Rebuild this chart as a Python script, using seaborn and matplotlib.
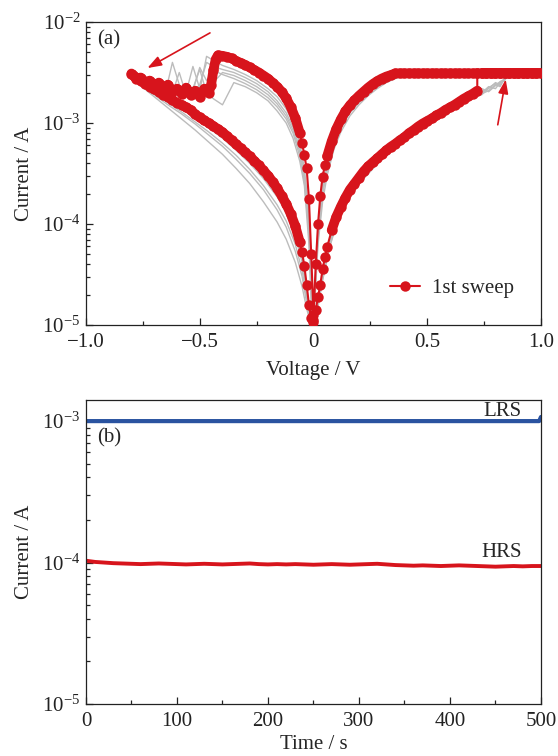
import matplotlib
matplotlib.use("Agg")
import matplotlib.pyplot as plt
import numpy as np
import seaborn as sns
from matplotlib.ticker import LogLocator, NullFormatter, MultipleLocator, FixedLocator, FixedFormatter

# ======================= DATA : panel (a) =======================
# 1st sweep (log10 of current in A), in sweep order
red_v_set = [0.00, 0.01, 0.02, 0.03, 0.04, 0.05, 0.06,
             0.08, 0.10, 0.12, 0.14, 0.16, 0.18, 0.20, 0.22, 0.24, 0.26,
             0.28, 0.30, 0.32, 0.34, 0.36, 0.38, 0.40, 0.42, 0.44, 0.46,
             0.48, 0.50, 0.52, 0.54, 0.56, 0.58, 0.60, 0.62, 0.64, 0.66,
             0.68, 0.70, 0.72]
red_log_set = [-4.95, -4.85, -4.72, -4.60, -4.45, -4.33, -4.23,
               -4.06, -3.93, -3.83, -3.74, -3.66, -3.60, -3.54, -3.48, -3.43, -3.39,
               -3.35, -3.31, -3.27, -3.235, -3.205, -3.17, -3.14, -3.10, -3.07, -3.035,
               -3.005, -2.98, -2.955, -2.925, -2.90, -2.87, -2.845, -2.82, -2.79, -2.76,
               -2.735, -2.71, -2.68]
# compliance (forward to 1.0 V and back to 0.36 V)
red_v_cc = [0.72, 0.74, 0.76, 0.78, 0.80, 0.82, 0.84, 0.86, 0.88, 0.90, 0.92, 0.94,
            0.96, 0.98, 1.00, 0.98, 0.96, 0.94, 0.92, 0.90, 0.88, 0.86, 0.84, 0.82,
            0.80, 0.78, 0.76, 0.74, 0.72, 0.70, 0.68, 0.66, 0.64, 0.62, 0.60, 0.58,
            0.56, 0.54, 0.52, 0.50, 0.48, 0.46, 0.44, 0.42, 0.40, 0.38, 0.36]
red_i_cc = [3.1e-3, 3.1e-3, 3.1e-3, 3.1e-3, 3.1e-3, 3.1e-3, 3.1e-3, 3.1e-3, 3.1e-3, 3.1e-3,
            3.1e-3, 3.1e-3, 3.1e-3, 3.1e-3, 3.1e-3, 3.1e-3, 3.1e-3, 3.1e-3, 3.1e-3, 3.1e-3,
            3.1e-3, 3.1e-3, 3.1e-3, 3.1e-3, 3.1e-3, 3.1e-3, 3.1e-3, 3.1e-3, 3.1e-3, 3.1e-3,
            3.1e-3, 3.1e-3, 3.1e-3, 3.1e-3, 3.1e-3, 3.1e-3, 3.1e-3, 3.1e-3, 3.1e-3, 3.1e-3,
            3.1e-3, 3.1e-3, 3.1e-3, 3.1e-3, 3.1e-3, 3.1e-3, 3.1e-3]
red_v_lrs = [0.34, 0.32, 0.30, 0.28, 0.26, 0.24, 0.22, 0.20, 0.18, 0.16, 0.14, 0.12,
             0.10, 0.08, 0.06, 0.05, 0.04, 0.03, 0.02, 0.01, 0.00]
red_log_lrs = [-2.525, -2.54, -2.56, -2.585, -2.615, -2.65, -2.69, -2.73, -2.775, -2.825,
               -2.885, -2.965, -3.06, -3.18, -3.33, -3.42, -3.53, -3.72, -4.00, -4.40, -4.90]
red_v_reset = [-0.01, -0.02, -0.03, -0.04, -0.05, -0.06,
               -0.08, -0.10, -0.12, -0.14, -0.16, -0.18, -0.20, -0.22, -0.24, -0.26,
               -0.28, -0.30, -0.32, -0.34, -0.36, -0.38, -0.40, -0.42,
               -0.43, -0.44, -0.45,
               -0.46, -0.48, -0.50, -0.52, -0.54, -0.56, -0.58, -0.60, -0.62, -0.64,
               -0.66, -0.68, -0.70, -0.72, -0.74, -0.76, -0.78, -0.80]
red_log_reset = [-4.30, -3.75, -3.45, -3.32, -3.20, -3.10,
                 -2.95, -2.84, -2.755, -2.69, -2.64, -2.60, -2.56, -2.53, -2.50, -2.475,
                 -2.45, -2.425, -2.405, -2.385, -2.36, -2.345, -2.335, -2.33,
                 -2.37, -2.48, -2.62,
                 -2.70, -2.66, -2.74, -2.68, -2.72, -2.65, -2.71, -2.66, -2.69, -2.62,
                 -2.66, -2.60, -2.63, -2.58, -2.60, -2.55, -2.56, -2.51]
red_v_back = [-0.78, -0.76, -0.74, -0.72, -0.70, -0.68, -0.66, -0.64, -0.62, -0.60,
              -0.58, -0.56, -0.54, -0.52, -0.50, -0.48, -0.46, -0.44, -0.42, -0.40,
              -0.38, -0.36, -0.34, -0.32, -0.30, -0.28, -0.26, -0.24, -0.22, -0.20,
              -0.18, -0.16, -0.14, -0.12, -0.10, -0.08, -0.06,
              -0.05, -0.04, -0.03, -0.02, -0.01, 0.00]
red_log_back = [-2.55, -2.58, -2.61, -2.64, -2.665, -2.69, -2.72, -2.745, -2.77, -2.80,
                -2.82, -2.845, -2.87, -2.915, -2.945, -2.975, -3.00, -3.03, -3.06, -3.09,
                -3.13, -3.17, -3.21, -3.25, -3.29, -3.33, -3.375, -3.42, -3.47, -3.52,
                -3.58, -3.645, -3.72, -3.80, -3.90, -4.02, -4.18,
                -4.28, -4.42, -4.60, -4.80, -4.93, -4.97]

# later cycles (grey), log10 of current, shared voltage grids per branch
gray_v_lo = [0.00, 0.01, 0.02, 0.04, 0.07, 0.10, 0.15, 0.20, 0.30, 0.40, 0.50, 0.60,
             0.70, 0.74, 0.77, 0.80, 0.82, 0.84]
gray_log_lo = [
    [-4.98, -4.90, -4.78, -4.52, -4.20, -3.98, -3.74, -3.57, -3.34, -3.16, -3.01, -2.87, -2.74, -2.70, -2.64, -2.66, -2.60, -2.58],
    [-5.00, -4.93, -4.82, -4.56, -4.24, -4.01, -3.77, -3.60, -3.36, -3.18, -3.03, -2.89, -2.76, -2.71, -2.68, -2.62, -2.64, -2.56],
    [-4.96, -4.88, -4.75, -4.49, -4.17, -3.96, -3.72, -3.56, -3.33, -3.15, -3.00, -2.86, -2.73, -2.66, -2.69, -2.63, -2.59, -2.57],
    [-4.99, -4.91, -4.80, -4.55, -4.23, -4.00, -3.76, -3.59, -3.35, -3.17, -3.02, -2.88, -2.75, -2.72, -2.65, -2.61, -2.63, -2.55],
    [-4.97, -4.89, -4.77, -4.50, -4.19, -3.97, -3.73, -3.58, -3.35, -3.17, -3.02, -2.88, -2.74, -2.69, -2.66, -2.60, -2.62, -2.57],
]
gray_v_cc = [0.86, 1.00, 0.42]
gray_log_cc = [-2.51, -2.51, -2.51]
gray_v_up = [0.40, 0.36, 0.32, 0.28, 0.24, 0.20, 0.16, 0.12, 0.09, 0.06, 0.04, 0.02, 0.01, 0.00]
gray_log_up = [
    [-2.51, -2.53, -2.57, -2.62, -2.69, -2.77, -2.87, -3.02, -3.18, -3.42, -3.65, -4.10, -4.50, -4.95],
    [-2.53, -2.56, -2.60, -2.66, -2.73, -2.82, -2.93, -3.09, -3.26, -3.52, -3.78, -4.20, -4.60, -4.97],
    [-2.51, -2.52, -2.55, -2.60, -2.67, -2.75, -2.85, -2.99, -3.15, -3.38, -3.60, -4.05, -4.45, -4.92],
    [-2.52, -2.55, -2.59, -2.64, -2.71, -2.80, -2.90, -3.05, -3.22, -3.47, -3.70, -4.15, -4.55, -4.96],
    [-2.51, -2.54, -2.58, -2.63, -2.70, -2.78, -2.88, -3.04, -3.20, -3.45, -3.68, -4.12, -4.52, -4.94],
]
gray_v_neg = [-0.01, -0.02, -0.04, -0.06, -0.09, -0.12, -0.16, -0.20, -0.25, -0.30, -0.35,
              -0.40, -0.44, -0.47, -0.50, -0.53, -0.56, -0.59, -0.62, -0.65, -0.68, -0.71,
              -0.74, -0.77, -0.80]
gray_log_neg = [
    [-4.6, -4.0, -3.50, -3.25, -3.04, -2.90, -2.78, -2.69, -2.61, -2.55, -2.50, -2.47, -2.44, -2.40, -2.62, -2.70, -2.66, -2.72, -2.64, -2.68, -2.62, -2.64, -2.58, -2.59, -2.55],
    [-4.7, -4.1, -3.58, -3.33, -3.10, -2.96, -2.84, -2.75, -2.67, -2.61, -2.56, -2.52, -2.48, -2.58, -2.45, -2.68, -2.72, -2.50, -2.70, -2.65, -2.68, -2.61, -2.63, -2.57, -2.56],
    [-4.5, -3.9, -3.45, -3.20, -3.00, -2.86, -2.74, -2.66, -2.58, -2.52, -2.47, -2.43, -2.38, -2.34, -2.68, -2.74, -2.70, -2.66, -2.73, -2.61, -2.67, -2.60, -2.62, -2.58, -2.53],
    [-4.8, -4.2, -3.62, -3.38, -3.15, -3.00, -2.88, -2.78, -2.70, -2.64, -2.60, -2.82, -2.76, -2.70, -2.47, -2.66, -2.71, -2.62, -2.40, -2.69, -2.63, -2.66, -2.60, -2.61, -2.56],
    [-4.6, -4.05, -3.54, -3.29, -3.07, -2.93, -2.81, -2.72, -2.64, -2.58, -2.53, -2.50, -2.60, -2.72, -2.66, -2.44, -2.70, -2.74, -2.67, -2.70, -2.64, -2.62, -2.60, -2.58, -2.54],
]
gray_v_back = [-0.76, -0.70, -0.64, -0.58, -0.52, -0.46, -0.40, -0.34, -0.28, -0.22,
               -0.16, -0.12, -0.08, -0.05, -0.03, -0.01]
gray_log_back = [
    [-2.60, -2.69, -2.78, -2.86, -2.95, -3.05, -3.15, -3.27, -3.40, -3.55, -3.73, -3.89, -4.12, -4.38, -4.68, -4.98],
    [-2.62, -2.72, -2.82, -2.91, -3.01, -3.12, -3.23, -3.36, -3.50, -3.66, -3.86, -4.03, -4.27, -4.52, -4.78, -5.00],
    [-2.59, -2.68, -2.76, -2.84, -2.93, -3.03, -3.13, -3.24, -3.37, -3.52, -3.69, -3.85, -4.08, -4.34, -4.64, -4.97],
    [-2.63, -2.74, -2.85, -2.96, -3.07, -3.19, -3.31, -3.45, -3.60, -3.78, -3.98, -4.15, -4.38, -4.62, -4.84, -5.00],
    [-2.61, -2.70, -2.80, -2.89, -2.99, -3.09, -3.20, -3.32, -3.46, -3.62, -3.81, -3.97, -4.20, -4.46, -4.73, -4.99],
]

# ======================= DATA : panel (b) =======================
hrs_t = [0, 10, 20, 30, 40, 50, 60, 70, 80, 90, 100, 110, 120, 130, 140, 150, 160, 170,
         180, 190, 200, 210, 220, 230, 240, 250, 260, 270, 280, 290, 300, 310, 320, 330,
         340, 350, 360, 370, 380, 390, 400, 410, 420, 430, 440, 450, 460, 470, 480, 490, 500]
hrs_i = [1.03e-4, 1.01e-4, 1.00e-4, 0.99e-4, 0.985e-4, 0.98e-4, 0.975e-4, 0.98e-4, 0.985e-4,
         0.98e-4, 0.975e-4, 0.97e-4, 0.975e-4, 0.98e-4, 0.975e-4, 0.97e-4, 0.975e-4, 0.98e-4,
         0.985e-4, 0.975e-4, 0.97e-4, 0.975e-4, 0.97e-4, 0.975e-4, 0.97e-4, 0.965e-4, 0.97e-4,
         0.975e-4, 0.97e-4, 0.965e-4, 0.97e-4, 0.975e-4, 0.98e-4, 0.97e-4, 0.96e-4, 0.955e-4,
         0.95e-4, 0.955e-4, 0.95e-4, 0.945e-4, 0.95e-4, 0.955e-4, 0.95e-4, 0.945e-4, 0.94e-4,
         0.935e-4, 0.94e-4, 0.945e-4, 0.94e-4, 0.945e-4, 0.945e-4]
lrs_t = [0, 100, 200, 300, 400, 498, 500]
lrs_i = [1.0e-3, 1.0e-3, 1.0e-3, 1.0e-3, 1.0e-3, 1.0e-3, 1.07e-3]

xticks_a = [-1.0, -0.5, 0.0, 0.5, 1.0]
xticklabels_a = ["\u22121.0", "\u22120.5", "0", "0.5", "1.0"]
xticks_b = [0, 100, 200, 300, 400, 500]

# ======================= STYLE =======================
sns.set_theme(style="ticks")
plt.rcParams["font.family"] = ["Liberation Serif", "DejaVu Serif"]
plt.rcParams["mathtext.fontset"] = "stix"
plt.rcParams["axes.linewidth"] = 0.9
plt.rcParams["axes.edgecolor"] = "#222222"

RED = "#d7141c"
GRAY = "#bcbcbc"
BLUE = "#2a53a0"
FS = 15

fig = plt.figure(figsize=(5.58, 7.56), dpi=100)
ax1 = fig.add_axes([0.1541, 0.5701, 0.8154, 0.4008])
ax2 = fig.add_axes([0.1541, 0.0688, 0.8154, 0.4021])


def style_axis(ax):
    ax.tick_params(which="both", direction="in", top=False, right=False,
                   labelsize=FS, colors="#222222", width=0.9)
    ax.tick_params(which="major", length=5, pad=4)
    ax.tick_params(which="minor", length=3)
    ax.tick_params(axis="x", which="major", pad=6)
    for s in ax.spines.values():
        s.set_linewidth(0.9)


# ---------- panel (a) ----------
ax1.set_yscale("log")
for k in range(len(gray_log_lo)):
    gv = gray_v_lo + gray_v_cc + gray_v_up + gray_v_neg + gray_v_back
    gl = gray_log_lo[k] + gray_log_cc + gray_log_up[k] + gray_log_neg[k] + gray_log_back[k]
    sns.lineplot(x=gv, y=np.power(10.0, gl), sort=False, estimator=None, ax=ax1,
                 color=GRAY, linewidth=1.0, zorder=2)

# dense parts of the 1st sweep render as a continuous thick band (overlapping markers)
bands = [
    (red_v_set[7:], list(np.power(10.0, red_log_set[7:]))),
    (red_v_cc[1:] + red_v_lrs[:15], red_i_cc[1:] + list(np.power(10.0, red_log_lrs[:15]))),
    (red_v_reset[5:] + red_v_back[:37],
     list(np.power(10.0, red_log_reset[5:])) + list(np.power(10.0, red_log_back[:37]))),
]
for bv, bi in bands:
    ax1.plot(bv, bi, color=RED, linewidth=7.0, solid_joinstyle="round",
             solid_capstyle="round", zorder=3)

rv = red_v_set + red_v_cc + red_v_lrs + red_v_reset + red_v_back
ri = list(np.power(10.0, red_log_set)) + red_i_cc + list(np.power(10.0, red_log_lrs)) + \
     list(np.power(10.0, red_log_reset)) + list(np.power(10.0, red_log_back))
ax1.plot(rv, ri, color=RED, linewidth=1.5, marker="o", markersize=7.5,
         markeredgewidth=0, label="1st sweep", zorder=3)

ax1.set_xlim(-1.0, 1.0)
ax1.set_ylim(1e-5, 1e-2)
ax1.xaxis.set_major_locator(FixedLocator(xticks_a))
ax1.xaxis.set_major_formatter(FixedFormatter(xticklabels_a))
ax1.xaxis.set_minor_locator(MultipleLocator(0.25))
ax1.yaxis.set_major_locator(LogLocator(base=10, numticks=10))
ax1.yaxis.set_minor_locator(LogLocator(base=10, subs=(2, 3, 4, 5, 6, 7, 8, 9), numticks=10))
ax1.yaxis.set_minor_formatter(NullFormatter())
style_axis(ax1)
ax1.set_xlabel("Voltage / V", fontsize=FS, labelpad=6)
ax1.set_ylabel("Current / A", fontsize=FS, labelpad=6)
ax1.text(0.024, 0.94, "(a)", transform=ax1.transAxes, fontsize=FS, va="center", ha="left")
leg = ax1.legend(loc="lower right", frameon=False, fontsize=FS, handlelength=1.45,
                 handletextpad=0.55, borderaxespad=0.9, bbox_to_anchor=(1.0, 0.0))

ax1.annotate("", xy=(-0.73, 3.5e-3), xytext=(-0.455, 7.8e-3),
             arrowprops=dict(arrowstyle="-|>,head_length=0.7,head_width=0.25",
                             color=RED, lw=1.2, shrinkA=0, shrinkB=0))
ax1.annotate("", xy=(0.845, 2.7e-3), xytext=(0.81, 9.6e-4),
             arrowprops=dict(arrowstyle="-|>,head_length=0.7,head_width=0.25",
                             color=RED, lw=1.2, shrinkA=0, shrinkB=0))

# ---------- panel (b) ----------
ax2.set_yscale("log")
sns.lineplot(x=hrs_t, y=hrs_i, ax=ax2, color=RED, linewidth=2.8, estimator=None, sort=False)
sns.lineplot(x=lrs_t, y=lrs_i, ax=ax2, color=BLUE, linewidth=3.0, estimator=None, sort=False)
ax2.set_xlim(0, 500)
ax2.set_ylim(1e-5, 1.41e-3)
ax2.xaxis.set_major_locator(FixedLocator(xticks_b))
ax2.xaxis.set_minor_locator(MultipleLocator(50))
ax2.yaxis.set_major_locator(LogLocator(base=10, numticks=10))
ax2.yaxis.set_minor_locator(LogLocator(base=10, subs=(2, 3, 4, 5, 6, 7, 8, 9), numticks=10))
ax2.yaxis.set_minor_formatter(NullFormatter())
style_axis(ax2)
ax2.set_xlabel("Time / s", fontsize=FS, labelpad=3)
ax2.set_ylabel("Current / A", fontsize=FS, labelpad=6)
ax2.text(0.024, 0.875, "(b)", transform=ax2.transAxes, fontsize=FS, va="center", ha="left")
ax2.text(0.958, 0.962, "LRS", transform=ax2.transAxes, fontsize=FS, va="center", ha="right")
ax2.text(0.958, 0.497, "HRS", transform=ax2.transAxes, fontsize=FS, va="center", ha="right")

fig.savefig("out.png", dpi=100)
